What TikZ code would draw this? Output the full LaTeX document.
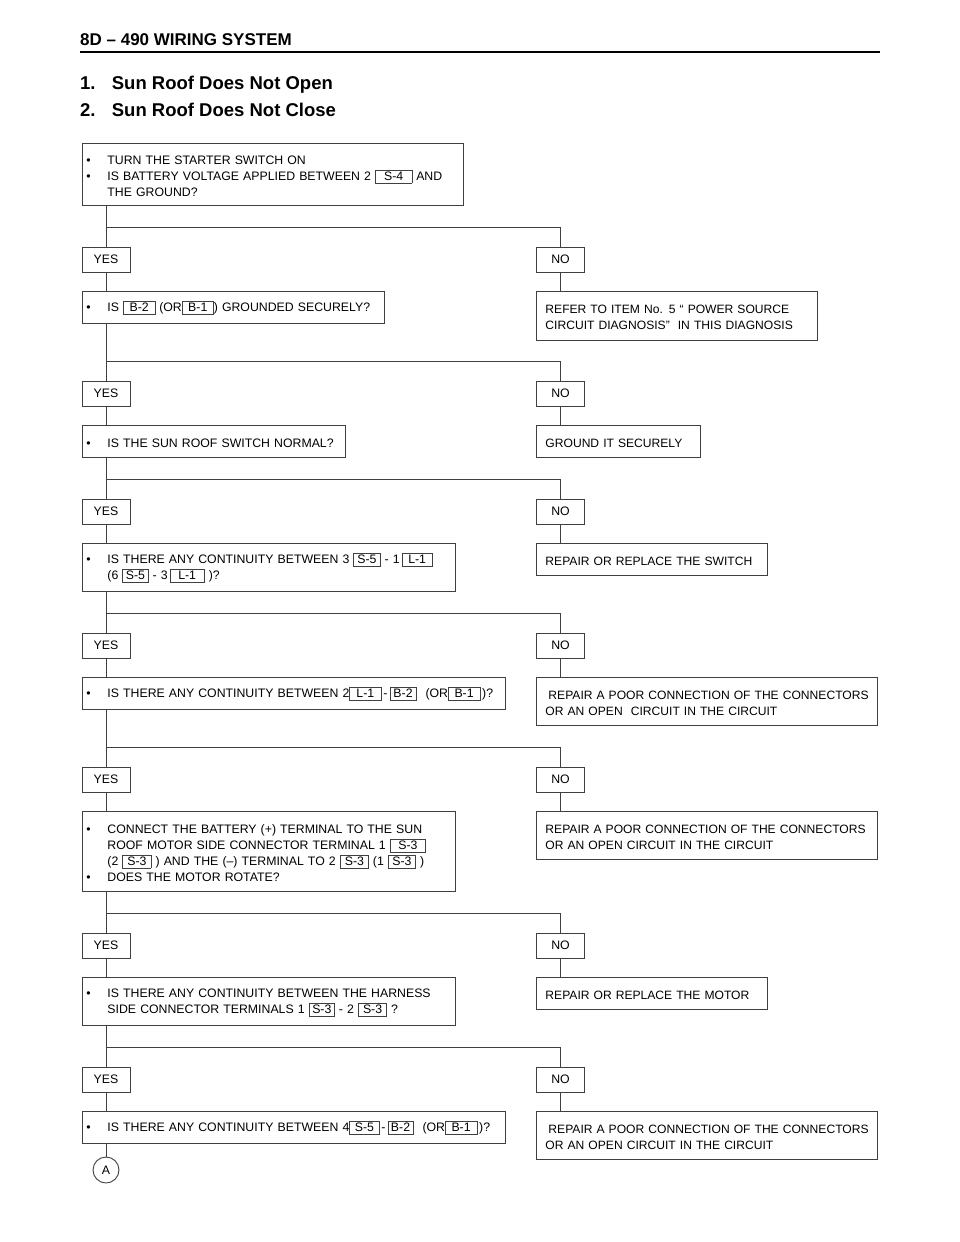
\documentclass[tikz,border=0pt]{standalone}
\usepackage{fontspec}
\setmainfont{Liberation Sans}
\newcommand\cb[2][30]{{\setlength\fboxsep{0pt}\setlength\fboxrule{0.6pt}\color{black!75}\fbox{\color{black}\makebox[\dimexpr#1pt-1.2pt\relax]{\rule[-2.6pt]{0pt}{12.6pt}#2}}}}
\newcommand\bl{\makebox[21pt][l]{\textbullet}}
\newcommand\ind{\hspace*{21pt}}
\newcommand\tp{\rule{0pt}{11.8pt}}
\begin{document}
\begin{tikzpicture}[x=1pt,y=-1pt,
  every node/.style={font=\fontsize{12.3}{16}\selectfont},
  qbox/.style={draw=black!75, line width=0.9pt, anchor=north west, inner xsep=4pt, inner ysep=0pt, align=left},
  rbox/.style={qbox, inner xsep=9pt, font=\fontsize{12.1}{16}\selectfont},
  yn/.style={draw=black!75, line width=0.9pt, minimum width=48pt, minimum height=25pt, inner sep=0pt},
  wire/.style={draw=black!75, line width=0.9pt}]
\path[use as bounding box, fill=white] (0,0) rectangle (960,1242);
% header
\node[anchor=base west, inner sep=0pt, font=\bfseries\fontsize{17}{20}\selectfont] (hdr) at (80,45) {8D – 490 WIRING SYSTEM};
\draw[line width=2pt] (80,52) -- (880,52);
\node[anchor=base west, inner sep=0pt, font=\bfseries\fontsize{18.5}{22}\selectfont] (t1) at (80,89) {\makebox[31.7pt][l]{1.}Sun Roof Does Not Open};
\node[anchor=base west, inner sep=0pt, font=\bfseries\fontsize{18.5}{22}\selectfont] (t2) at (80,116) {\makebox[31.7pt][l]{2.}Sun Roof Does Not Close};
% questions
\node[qbox, text width=373pt, minimum height=62pt] (q1) at (82,143) {\mbox{\tp\bl TURN THE STARTER SWITCH ON}\\\mbox{\bl IS BATTERY VOLTAGE APPLIED BETWEEN 2 \cb[37]{S-4} AND}\\\mbox{\ind THE GROUND?}};
\node[qbox, text width=294pt, minimum height=32pt] (q2) at (82,291) {\mbox{\tp\bl IS \cb[32]{B-2} (OR\cb[32]{B-1}) GROUNDED SECURELY?}};
\node[qbox, text width=255pt, minimum height=32pt] (q3) at (82,425) {\mbox{\tp\bl IS THE SUN ROOF SWITCH NORMAL?}};
\node[qbox, text width=365pt, minimum height=48pt] (q4) at (82,543) {\mbox{\tp\bl IS THERE ANY CONTINUITY BETWEEN 3 \cb[27]{S-5} - 1\,\cb[31]{L-1}}\\\mbox{\ind (6 \cb[26]{S-5} - 3\,\cb[35]{L-1} )?}};
\node[qbox, text width=415pt, minimum height=32pt] (q5) at (82,677) {\mbox{\tp\bl IS THERE ANY CONTINUITY BETWEEN 2\cb[32]{L-1}\,-\,\cb[27]{B-2}\hspace{9pt}(OR\cb[32]{B-1}\,)?}};
\node[qbox, text width=365pt, minimum height=80pt] (q6) at (82,811) {\mbox{\tp\bl CONNECT THE BATTERY (+) TERMINAL TO THE SUN}\\\mbox{\ind ROOF MOTOR SIDE CONNECTOR TERMINAL 1 \cb[36]{S-3}}\\\mbox{\ind (2 \cb[29]{S-3} ) AND THE (–) TERMINAL TO 2 \cb[29]{S-3} (1 \cb[28]{S-3} )}\\\mbox{\bl DOES THE MOTOR ROTATE?}};
\node[qbox, text width=365pt, minimum height=48pt] (q7) at (82,977) {\mbox{\tp\bl IS THERE ANY CONTINUITY BETWEEN THE HARNESS}\\\mbox{\ind SIDE CONNECTOR TERMINALS 1 \cb[26]{S-3} - 2 \cb[29]{S-3} ?}};
\node[qbox, text width=415pt, minimum height=32pt] (q8) at (82,1111) {\mbox{\tp\bl IS THERE ANY CONTINUITY BETWEEN 4\cb[30]{S-5}\,-\,\cb[26]{B-2}\hspace{9pt}(OR\cb[32]{B-1}\,)?}};
% results
\node[rbox, text width=263pt, minimum height=49pt] (r1) at (536,291) {\mbox{\tp REFER TO ITEM No. 5 “ POWER SOURCE}\\\mbox{CIRCUIT DIAGNOSIS”\ \ IN THIS DIAGNOSIS}};
\node[rbox, text width=146pt, minimum height=32pt] (r2) at (536,425) {\mbox{\tp GROUND IT SECURELY}};
\node[rbox, text width=213pt, minimum height=32pt] (r3) at (536,543) {\mbox{\tp REPAIR OR REPLACE THE SWITCH}};
\node[rbox, text width=323pt, minimum height=48pt] (r4) at (536,677) {\mbox{\tp\hspace*{3pt}REPAIR A POOR CONNECTION OF THE CONNECTORS}\\\mbox{OR AN OPEN\ \ CIRCUIT IN THE CIRCUIT}};
\node[rbox, text width=323pt, minimum height=48pt] (r5) at (536,811) {\mbox{\tp REPAIR A POOR CONNECTION OF THE CONNECTORS}\\\mbox{OR AN OPEN CIRCUIT IN THE CIRCUIT}};
\node[rbox, text width=213pt, minimum height=32pt] (r6) at (536,977) {\mbox{\tp REPAIR OR REPLACE THE MOTOR}};
\node[rbox, text width=323pt, minimum height=48pt] (r7) at (536,1111) {\mbox{\tp\hspace*{3pt}REPAIR A POOR CONNECTION OF THE CONNECTORS}\\\mbox{OR AN OPEN CIRCUIT IN THE CIRCUIT}};
% yes / no
\foreach \i/\y in {1/259.5,2/393.5,3/511.5,4/645.5,5/779.5,6/945.5,7/1079.5}{
  \node[yn] (yes\i) at (106,\y) {YES};
  \node[yn] (no\i) at (560.5,\y) {NO};
}
\foreach \i/\y in {1/227,2/361,3/479,4/613,5/747,6/913,7/1047}{
  \coordinate (b\i) at (560.5,\y);
}
\node[circle, draw=black!75, line width=0.9pt, minimum size=26pt, inner sep=0pt] (cA) at (106,1170) {A};
% connectors
\foreach \i [evaluate=\i as \n using int(\i+1)] in {1,...,7}{
  \draw[wire] (q\i.south -| yes\i.north) -- (yes\i.north);
  \draw[wire] (yes\i.south) -- (yes\i.south |- q\n.north);
  \draw[wire] (b\i -| yes\i.north) -- (b\i) -- (no\i.north);
  \draw[wire] (no\i.south) -- (no\i.south |- r\i.north);
}
\draw[wire] (q8.south -| cA.north) -- (cA.north);
\end{tikzpicture}
\end{document}
